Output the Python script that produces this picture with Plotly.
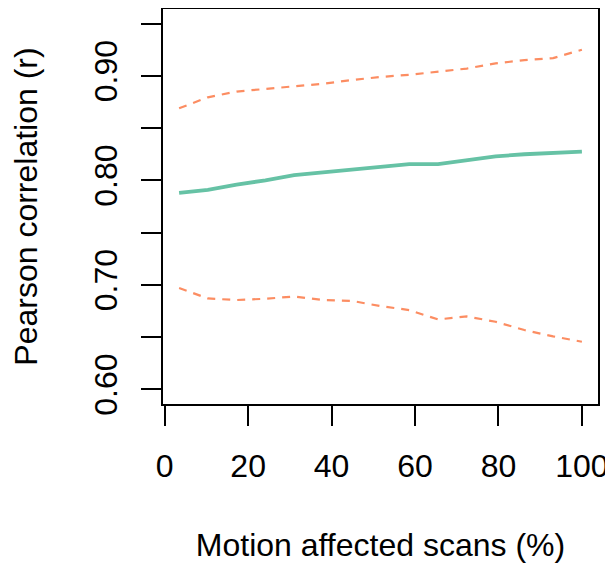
import plotly.graph_objects as go

x_pct = [3.45, 10.34, 17.24, 24.14, 31.03, 37.93, 44.83, 51.72, 58.62, 65.52, 72.41, 79.31, 86.21, 93.10, 100.0]
r_mean = [0.788, 0.791, 0.796, 0.800, 0.805, 0.8075, 0.810, 0.813, 0.8155, 0.8155, 0.8195, 0.823, 0.825, 0.826, 0.8275]
r_upper = [0.869, 0.8795, 0.885, 0.8875, 0.890, 0.8925, 0.896, 0.899, 0.901, 0.904, 0.907, 0.912, 0.915, 0.917, 0.925]
r_lower = [0.697, 0.687, 0.6855, 0.6867, 0.6889, 0.6855, 0.6847, 0.6797, 0.6759, 0.6669, 0.6698, 0.6647, 0.6568, 0.6507, 0.6456]

y_ticks = [0.60, 0.65, 0.70, 0.75, 0.80, 0.85, 0.90, 0.95]
y_ticktext = ["0.60", "", "0.70", "", "0.80", "", "0.90", ""]
x_ticks = [0, 20, 40, 60, 80, 100]

FONT = "Liberation Sans, Arial, Helvetica, sans-serif"
GREEN = "#66C2A5"
ORANGE = "#FC8D62"
FS = 32

fig = go.Figure()
fig.add_trace(go.Scatter(x=x_pct, y=r_upper, mode="lines",
                         line=dict(color=ORANGE, width=2.2, dash="8px,7px"), showlegend=False))
fig.add_trace(go.Scatter(x=x_pct, y=r_lower, mode="lines",
                         line=dict(color=ORANGE, width=2.2, dash="8px,7px"), showlegend=False))
fig.add_trace(go.Scatter(x=x_pct, y=r_mean, mode="lines",
                         line=dict(color=GREEN, width=3.8), showlegend=False))

# the page body has an 8px margin, so the figure is sized to fill the rest of the window
fig.update_layout(
    width=605, height=555,
    margin=dict(l=155, r=15, t=1, b=159, autoexpand=False),
    plot_bgcolor="white", paper_bgcolor="white",
    font=dict(family=FONT, size=FS, color="black"),
)
fig.update_xaxes(
    range=[-0.41, 103.86], tickvals=x_ticks, ticktext=[str(v) for v in x_ticks],
    showgrid=False, zeroline=False, showline=True, mirror=True, linecolor="black", linewidth=1.5,
    ticks="outside", ticklen=20, tickwidth=1.5, tickcolor="black", automargin=False,
    tickfont=dict(size=FS), ticklabelstandoff=13,
    title=dict(text="Motion affected scans (%)", font=dict(size=FS), standoff=50),
)
fig.update_yaxes(
    range=[0.586, 0.964], tickvals=y_ticks, ticktext=y_ticktext,
    showgrid=False, zeroline=False, showline=True, mirror=True, linecolor="black", linewidth=1.5,
    ticks="outside", ticklen=20, tickwidth=1.5, tickcolor="black", automargin=False,
    tickangle=-90, tickfont=dict(size=FS), ticklabelstandoff=11,
    title=dict(text="Pearson correlation (r)", font=dict(size=FS), standoff=43),
)

fig.write_html("out.html")
